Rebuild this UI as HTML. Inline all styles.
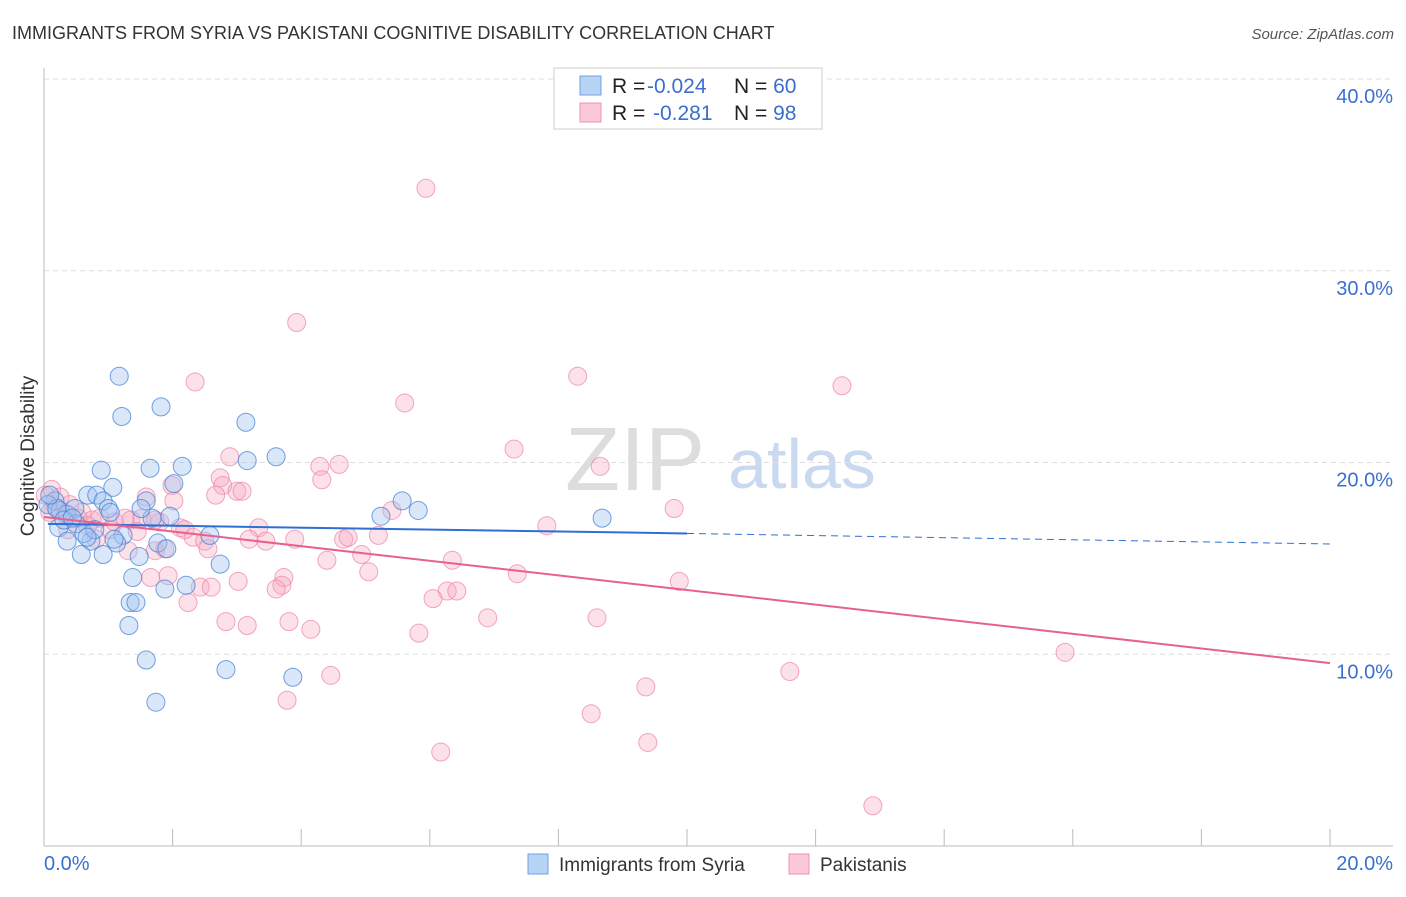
<!DOCTYPE html>
<html><head><meta charset="utf-8"><style>
body{margin:0;background:#fff;font-family:"Liberation Sans",sans-serif;}
svg text{font-family:"Liberation Sans",sans-serif;}
</style></head><body>
<svg id="chart" width="1406" height="892" xmlns="http://www.w3.org/2000/svg">
<text x="12" y="39" font-size="18" fill="#333">IMMIGRANTS FROM SYRIA VS PAKISTANI COGNITIVE DISABILITY CORRELATION CHART</text>
<text x="1394" y="39" font-size="15" fill="#555" text-anchor="end" font-style="italic">Source: ZipAtlas.com</text>
<g>
<text x="635" y="490" font-size="90" fill="#ddd" font-family="Liberation Serif" text-anchor="middle">ZIP</text>
<text x="802" y="488" font-size="70" fill="#c9daf0" text-anchor="middle">atlas</text>
</g>
<g id="grid"></g>
<g id="axes"></g>
<text transform="translate(34,456) rotate(-90)" font-size="19" fill="#333" text-anchor="middle">Cognitive Disability</text>
<g id="pts"></g>
<g id="lines"></g>
<g>
<rect x="554" y="68" width="268" height="61" fill="#fff" stroke="#ccc"/>
<rect x="580" y="76" width="21" height="19" fill="#b7d3f5" stroke="#6fa0e0"/>
<rect x="580" y="103" width="21" height="19" fill="#fbc9d8" stroke="#ee94b0"/>
<text x="612" y="93" font-size="21" fill="#222">R = <tspan x="647" fill="#3a6fd0">-0.024</tspan><tspan x="734">N = </tspan><tspan fill="#3a6fd0">60</tspan></text>
<text x="612" y="120" font-size="21" fill="#222">R = <tspan x="653" fill="#3a6fd0">-0.281</tspan><tspan x="734">N = </tspan><tspan fill="#3a6fd0">98</tspan></text>
</g>
<g>
<rect x="528" y="854" width="20" height="20" fill="#b7d3f5" stroke="#6fa0e0"/>
<text x="559" y="871" font-size="19" fill="#333">Immigrants from Syria</text>
<rect x="789" y="854" width="20" height="20" fill="#fbc9d8" stroke="#ee94b0"/>
<text x="820" y="871" font-size="19" fill="#333">Pakistanis</text>
</g>
</svg>
<script>
const yTicks=[10,20,30,40];
const yTickLabels=["10.0%","20.0%","30.0%","40.0%"];
const xTickLabels=["0.0%","20.0%"];
const syriaX=[1.17,1.21,1.82,3.14,0.89,1.65,2.15,3.16,3.61,1.07,2.02,0.68,0.82,0.92,1.59,1.0,1.03,1.96,5.57,5.82,5.24,8.68,0.17,0.06,0.25,0.36,0.48,0.23,0.50,1.68,2.58,1.23,0.36,0.73,1.13,1.77,1.91,0.58,0.92,1.48,2.74,1.38,2.21,1.88,1.34,1.43,1.32,1.59,2.83,3.87,1.74,0.2,0.31,0.62,0.79,0.44,0.09,1.09,0.67,1.51];
const syriaY=[24.5,22.4,22.9,22.1,19.6,19.7,19.8,20.1,20.3,18.7,18.9,18.3,18.3,18.0,18.0,17.6,17.4,17.2,18.0,17.5,17.2,17.1,18.0,17.8,17.5,17.3,17.6,16.6,16.8,17.1,16.2,16.2,15.9,15.9,15.8,15.8,15.5,15.2,15.2,15.1,14.7,14.0,13.6,13.4,12.7,12.7,11.5,9.7,9.2,8.8,7.5,17.6,17.0,16.3,16.5,17.1,18.3,16.0,16.1,17.6];
const pakX=[5.94,3.93,2.35,8.30,12.41,5.61,7.31,2.89,4.29,4.59,8.65,2.74,4.32,1.99,2.78,3.0,3.08,2.67,1.59,2.02,9.80,5.41,7.82,0.12,0.02,0.25,0.40,0.59,0.75,0.87,1.10,1.35,1.52,1.80,2.12,2.32,2.50,2.55,3.34,3.19,3.45,3.90,4.66,4.73,5.20,4.94,4.40,6.35,1.73,1.31,1.88,5.05,7.36,1.66,1.93,3.73,3.02,9.88,2.43,2.60,3.70,3.61,6.27,6.42,6.05,2.24,6.90,8.60,2.83,3.16,3.81,4.15,5.83,15.88,11.60,4.46,9.36,3.78,8.51,9.39,6.17,12.89,0.17,0.33,0.53,0.68,1.03,1.26,1.45,2.19,0.37,0.09,0.81,1.73];
const pakY=[34.3,27.3,24.2,24.5,24.0,23.1,20.7,20.3,19.8,19.9,19.8,19.2,19.1,18.8,18.8,18.5,18.5,18.3,18.2,18.0,17.6,17.5,16.7,18.6,18.3,18.2,17.8,17.4,17.0,17.1,16.9,17.0,17.1,16.9,16.6,16.1,15.9,15.5,16.6,16.0,15.9,16.0,16.0,16.1,16.2,15.2,14.9,14.9,15.4,15.4,15.5,14.3,14.2,14.0,14.1,14.0,13.8,13.8,13.5,13.5,13.6,13.4,13.3,13.3,12.9,12.7,11.9,11.9,11.7,11.5,11.7,11.3,11.1,10.1,9.1,8.9,8.3,7.6,6.9,5.4,4.9,2.1,17.7,17.3,17.1,16.7,16.5,17.1,16.4,16.5,16.5,17.4,16.0,17.0];
const syriaTrend=[16.8,16.3,15.75];
const pakTrend=[17.16,9.54];
const NS="http://www.w3.org/2000/svg";
function sx(v){return 44+v*64.3;}
function sy(v){return 846-v*19.175;}
function mk(tag,attrs,parent){const e=document.createElementNS(NS,tag);for(const k in attrs)e.setAttribute(k,attrs[k]);parent.appendChild(e);return e;}
const grid=document.getElementById('grid'),axes=document.getElementById('axes'),pts=document.getElementById('pts'),lines=document.getElementById('lines');
yTicks.forEach((t,i)=>{
  const l=mk('line',{x1:44,x2:1393,y1:sy(t),y2:sy(t),stroke:'#ddd','stroke-dasharray':'5,4'},grid);
  
  
  const tx=mk('text',{x:1393,y:sy(t)+24,'font-size':20,fill:'#3a6fd0','text-anchor':'end'},axes);
  tx.textContent=yTickLabels[i];
  
  
});
mk('line',{x1:44,x2:44,y1:68,y2:846,stroke:'#bbb'},axes);
mk('line',{x1:44,x2:1393,y1:846,y2:846,stroke:'#bbb'},axes);
for(let i=0;i<=10;i++){const t=mk('line',{x1:sx(i*2),x2:sx(i*2),y1:829,y2:846,stroke:'#bbb'},axes);
  
  }
const xl0=mk('text',{x:44,y:870,'font-size':20,fill:'#3a6fd0'},axes);xl0.textContent=xTickLabels[0];


const xl1=mk('text',{x:1393,y:870,'font-size':20,fill:'#3a6fd0','text-anchor':'end'},axes);xl1.textContent=xTickLabels[1];


pakX.forEach((x,i)=>{const c=mk('circle',{cx:sx(x),cy:sy(pakY[i]),r:9,fill:'rgba(246,168,192,0.35)',stroke:'rgba(236,130,165,0.7)','stroke-width':1},pts);
  
  });
syriaX.forEach((x,i)=>{const c=mk('circle',{cx:sx(x),cy:sy(syriaY[i]),r:9,fill:'rgba(160,196,240,0.4)',stroke:'rgba(70,130,215,0.75)','stroke-width':1},pts);
  
  });
const b1=mk('line',{x1:sx(0.06),y1:sy(syriaTrend[0]),x2:sx(10),y2:sy(syriaTrend[1]),stroke:'#2d6fd6','stroke-width':2},lines);


const b2=mk('line',{x1:sx(10),y1:sy(syriaTrend[1]),x2:sx(20),y2:sy(syriaTrend[2]),stroke:'#2d6fd6','stroke-width':1,'stroke-dasharray':'7,5'},lines);


const p1=mk('line',{x1:sx(0),y1:sy(pakTrend[0]),x2:sx(20),y2:sy(pakTrend[1]),stroke:'#e8608e','stroke-width':2},lines);


</script>
</body></html>
